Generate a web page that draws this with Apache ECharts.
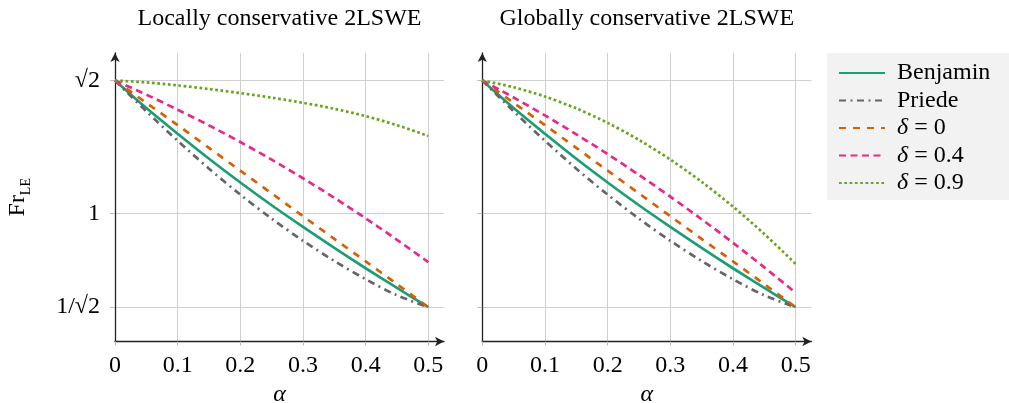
<!DOCTYPE html>
<html><head><meta charset="utf-8">
<script src="https://cdn.jsdelivr.net/npm/echarts@6/dist/echarts.min.js"></script>
<style>html,body{margin:0;padding:0;background:#fff}#c{width:1009px;height:403px}</style>
</head><body><div id="c"></div>
<script>
const alpha = [0, 0.05, 0.1, 0.15, 0.2, 0.25, 0.3, 0.35, 0.4, 0.45, 0.5];
const benjamin = [1.4142, 1.3283, 1.2480, 1.1700, 1.0960, 1.0250, 0.9575, 0.8920, 0.8285, 0.7670, 0.7071];
const priede = [1.4142, 1.3182, 1.2262, 1.1392, 1.0582, 0.9832, 0.9142, 0.8512, 0.7942, 0.7442, 0.7071];
const delta0 = [1.4142, 1.3445, 1.2750, 1.2040, 1.1330, 1.0620, 0.9910, 0.9200, 0.8500, 0.7790, 0.7071];
const localDelta04 = [1.4142, 1.3702, 1.3232, 1.2742, 1.2222, 1.1672, 1.1092, 1.0482, 0.9842, 0.9172, 0.8475];
const localDelta09 = [1.4142, 1.4082, 1.3989, 1.3877, 1.3749, 1.3607, 1.3447, 1.3259, 1.3031, 1.2748, 1.2413];
const globalDelta04 = [1.4142, 1.3612, 1.3052, 1.2463, 1.1845, 1.1197, 1.0520, 0.9814, 0.9079, 0.8314, 0.7520];
const globalDelta09 = [1.4142, 1.3932, 1.3642, 1.3271, 1.2820, 1.2288, 1.1675, 1.0982, 1.0208, 0.9354, 0.8419];
const seriesNames = ['Benjamin', 'Priede', 'δ = 0', 'δ = 0.4', 'δ = 0.9'];
const panelTitles = ['Locally conservative 2LSWE', 'Globally conservative 2LSWE'];
const xTickValues = [0, 0.1, 0.2, 0.3, 0.4, 0.5];
const xTickLabels = ['0', '0.1', '0.2', '0.3', '0.4', '0.5'];
const yTickValues = [0.70711, 1, 1.41421];
const yTickLabels = ['1/√2', '1', '√2'];

const FONT = 'Liberation Serif';
const colors = ['#1b9e77', '#666666', '#d95f02', '#e7298a', '#66a61e'];
const dashes = ['solid', [7, 4.5, 2, 4.5], [7, 7], [7, 4.5], [2.7, 2.6]];
const pair = arr => alpha.map((a, i) => [a, arr[i]]);
const panels = [
  [benjamin, priede, delta0, localDelta04, localDelta09],
  [benjamin, priede, delta0, globalDelta04, globalDelta09]
];
const gridLefts = [115, 482.3];
const series = [];
panels.forEach((sets, p) => {
  sets.forEach((arr, k) => {
    series.push({
      type: 'line', name: seriesNames[k], xAxisIndex: p, yAxisIndex: p,
      data: pair(arr), symbol: 'none', showSymbol: false, smooth: 0.3,
      lineStyle: { color: colors[k], width: 2.7, type: dashes[k], cap: 'butt' },
      itemStyle: { color: colors[k] }, z: 3 + k
    });
  });
});
const axisLineStyle = { color: '#222', width: 1.3 };
const xAxes = [0, 1].map(p => ({
  type: 'value', gridIndex: p, min: 0, max: 0.525, interval: 0.1,
  name: 'α', nameLocation: 'middle', nameGap: 33,
  nameTextStyle: { fontFamily: FONT, fontSize: 24, fontStyle: 'italic', color: '#000' },
  axisLine: { show: true, onZero: false, lineStyle: axisLineStyle, symbol: ['none', 'arrow'], symbolSize: [7, 9] },
  axisTick: { show: true, length: 4, lineStyle: { color: '#bbb' }, customValues: xTickValues },
  axisLabel: { show: true, margin: 12, fontFamily: FONT, fontSize: 24, color: '#000', customValues: xTickValues,
    formatter: v => { const i = xTickValues.findIndex(t => Math.abs(t - v) < 1e-6); return i >= 0 ? xTickLabels[i] : ''; } },
  splitLine: { show: true, lineStyle: { color: '#cfcfcf', width: 1 } }
}));
const yAxes = [0, 1].map(p => ({
  type: 'value', gridIndex: p, min: 0.6, max: 1.5,
  name: p === 0 ? '{a|Fr}{b|LE}' : '', nameLocation: 'middle', nameGap: 82,
  nameTextStyle: { fontFamily: FONT, color: '#000',
    rich: { a: { fontFamily: FONT, fontSize: 24, lineHeight: 30, color: '#000' },
            b: { fontFamily: FONT, fontSize: 14, lineHeight: 14, verticalAlign: 'bottom', color: '#000' } } },
  axisLine: { show: true, onZero: false, lineStyle: axisLineStyle, symbol: ['none', 'arrow'], symbolSize: [7, 9] },
  axisTick: { show: true, length: 5, lineStyle: { color: '#bbb' }, customValues: yTickValues },
  axisLabel: { show: p === 0, margin: 15, fontFamily: FONT, fontSize: 24, color: '#000', customValues: yTickValues,
    formatter: v => { const i = yTickValues.findIndex(t => Math.abs(t - v) < 1e-4); return i >= 0 ? yTickLabels[i] : ''; } },
  splitLine: { show: true, lineStyle: { color: '#cfcfcf', width: 1 } }
}));
const chart = echarts.init(document.getElementById('c'), null, { renderer: 'canvas' });
chart.setOption({
  animation: false,
  backgroundColor: '#fff',
  title: panelTitles.map((t, p) => ({
    text: t, left: gridLefts[p] + 164.5, top: 7, textAlign: 'center', padding: 0,
    textStyle: { fontFamily: FONT, fontSize: 24, fontWeight: 'normal', color: '#000' }
  })),
  legend: {
    data: seriesNames, orient: 'vertical', left: 827, top: 53,
    backgroundColor: '#f2f2f2', borderWidth: 0, padding: [8, 19, 5, 11],
    itemWidth: 46, itemHeight: 14, itemGap: 3.5,
    itemStyle: { opacity: 0 },
    textStyle: { fontFamily: FONT, fontSize: 24, color: '#000', lineHeight: 22, padding: [0, 0, 0, 7],
      rich: { i: { fontFamily: FONT, fontSize: 24, fontStyle: 'italic', color: '#000', lineHeight: 22 } } },
    formatter: n => n.charAt(0) === 'δ' ? '{i|δ}' + n.slice(1) : n
  },
  grid: gridLefts.map(l => ({ left: l, top: 53, width: 329, height: 288.5, containLabel: false, outerBoundsMode: 'none' })),
  xAxis: xAxes,
  yAxis: yAxes,
  series: series
});
</script></body></html>
